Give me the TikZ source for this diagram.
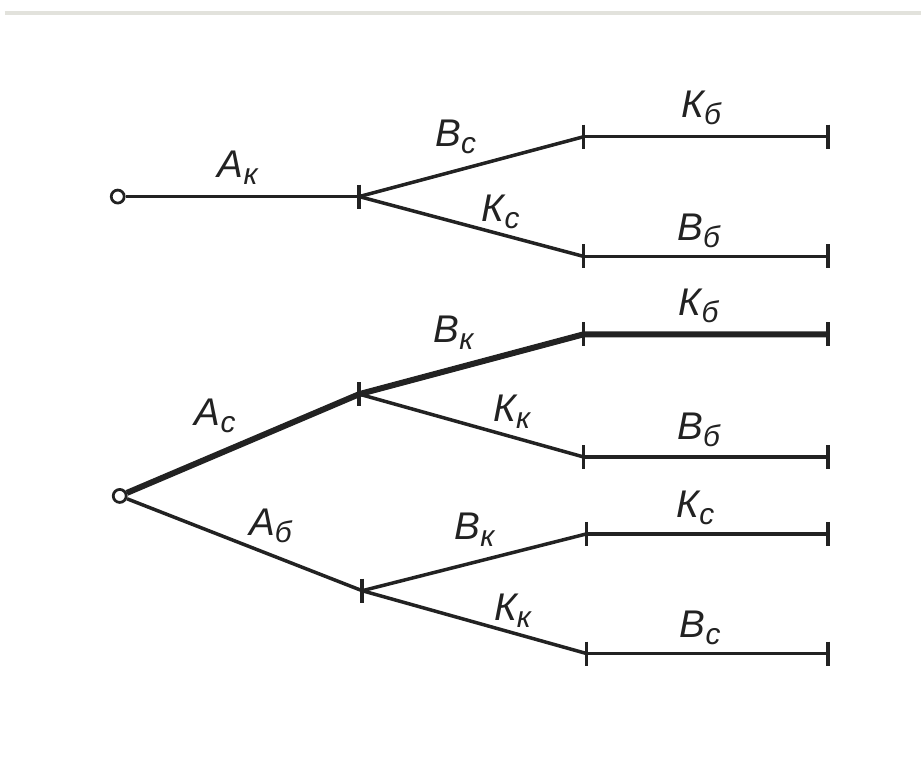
\documentclass[tikz,border=0pt]{standalone}
\usepackage{fontspec}
\setmainfont{Liberation Sans}
\usetikzlibrary{positioning}
\definecolor{ink}{RGB}{34,34,34}
\definecolor{frame}{RGB}{226,226,220}
\newcommand{\lbl}[2]{\itshape #1\raisebox{-4pt}{\fontsize{17}{17}\selectfont #2}}

\begin{document}
\begin{tikzpicture}[x=0.2mm,y=-0.2mm,
    branch/.style={ink,line width=0.7mm},
    best/.style={ink,line width=1.2mm},
    tick/.style={ink,line width=0.7mm},
    root/.style={circle,draw=ink,line width=0.55mm,fill=white,inner sep=0pt,minimum size=2.6mm},
    lab/.style={text=ink,font=\fontsize{22}{22}\selectfont,inner sep=0pt}]
  \fill[white] (0,0) rectangle (923,762);
  \draw[frame,line width=0.8mm] (5,13) -- (923,13);
  % upper tree
  \coordinate (a1) at (360,197);
  \coordinate (b1) at (585,137);
  \coordinate (b2) at (585,257);
  \coordinate (e1) at (830,137);
  \coordinate (e2) at (830,257);
  % lower tree
  \coordinate (a2) at (360,395);
  \coordinate (a3) at (363,592);
  \coordinate (b3) at (585,335);
  \coordinate (b4) at (585,458);
  \coordinate (b5) at (588,535);
  \coordinate (b6) at (588,655);
  \coordinate (e3) at (830,335);
  \coordinate (e4) at (830,458);
  \coordinate (e5) at (830,535);
  \coordinate (e6) at (830,655);
  \node[root] (r1) at (118,197) {};
  \node[root] (r2) at (120,497) {};
  % best route
  \draw[best] (r2) -- (a2) -- (b3) -- (e3);
  \foreach \p/\q/\l/\s/\d/\w in {r1/a1/А/к/0.48/2mm, a1/b1/В/с/0.43/3mm, a1/b2/К/с/0.63/0.8mm,
      b1/e1/К/б/0.48/2mm, b2/e2/В/б/0.47/1.4mm,
      r2/a2/А/с/0.38/4.2mm, a2/b3/В/к/0.42/3.6mm, a2/b4/К/к/0.68/1.4mm,
      b3/e3/К/б/0.47/2mm, b4/e4/В/б/0.47/1.6mm,
      r2/a3/А/б/0.61/2mm, a3/b5/В/к/0.5/2.8mm, a3/b6/К/к/0.67/0.8mm,
      b5/e5/К/с/0.45/1.4mm, b6/e6/В/с/0.47/1.4mm}
    \draw[branch] (\p) -- node[lab,pos=\d,above=\w] {\lbl{\l}{\s}} (\q);
  \foreach \n in {a1,b1,b2,e1,e2,a2,a3,b3,b4,b5,b6,e3,e4,e5,e6}
    \draw[tick] ([yshift=2.4mm]\n) -- ([yshift=-2.4mm]\n);
\end{tikzpicture}
\end{document}
